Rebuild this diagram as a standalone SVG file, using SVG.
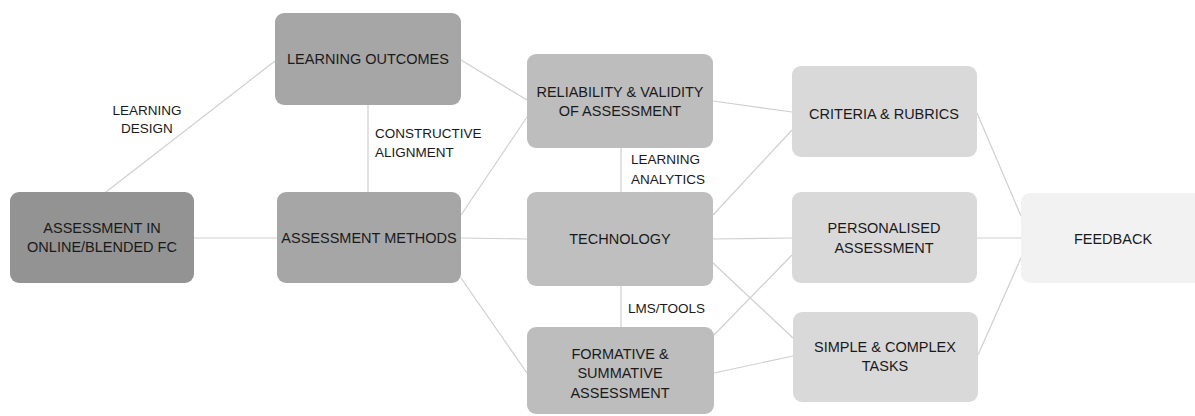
<svg xmlns="http://www.w3.org/2000/svg" width="1195" height="416" viewBox="0 0 1195 416">
<style>
.t{font-family:"Liberation Sans",Arial,sans-serif;font-size:14.5px;fill:#1a1a1a;text-anchor:middle}
.l{font-family:"Liberation Sans",Arial,sans-serif;font-size:13.5px;fill:#1a1a1a}
.c line{stroke:#cfcfcf;stroke-width:1.2}
</style>
<rect width="1195" height="416" fill="#ffffff"/>
<g class="c" id="connectors">
<line x1="275" y1="61" x2="106" y2="192"/>
<line x1="368" y1="105" x2="368" y2="192"/>
<line x1="461" y1="60" x2="527" y2="100"/>
<line x1="194" y1="238" x2="277" y2="238"/>
<line x1="461" y1="215" x2="527" y2="117"/>
<line x1="461" y1="238" x2="527" y2="239"/>
<line x1="461" y1="278" x2="527" y2="373"/>
<line x1="621" y1="148" x2="621" y2="192"/>
<line x1="621" y1="286" x2="621" y2="327"/>
<line x1="713" y1="101" x2="792" y2="112"/>
<line x1="713" y1="215" x2="792" y2="130"/>
<line x1="713" y1="239" x2="792" y2="238"/>
<line x1="713" y1="263" x2="793" y2="338"/>
<line x1="714" y1="335" x2="792" y2="255"/>
<line x1="714" y1="373" x2="793" y2="356"/>
<line x1="977" y1="113" x2="1021" y2="216"/>
<line x1="977" y1="238" x2="1021" y2="238"/>
<line x1="978" y1="355" x2="1021" y2="258"/>
</g>
<g id="labels">
<text class="l" x="147" y="115" text-anchor="middle">LEARNING</text>
<text class="l" x="147" y="133" text-anchor="middle">DESIGN</text>
<text class="l" x="375" y="138">CONSTRUCTIVE</text>
<text class="l" x="375" y="157">ALIGNMENT</text>
<text class="l" x="631" y="164">LEARNING</text>
<text class="l" x="631" y="184">ANALYTICS</text>
<text class="l" x="628" y="313">LMS/TOOLS</text>
</g>
<g id="learning-outcomes">
<rect x="275" y="13" width="186" height="92" rx="9" fill="#a6a6a6"/>
<text class="t" x="368" y="64">LEARNING OUTCOMES</text>
</g>
<g id="assessment-in-online">
<rect x="10" y="192" width="184" height="91" rx="9" fill="#939393"/>
<text class="t" x="102" y="233">ASSESSMENT IN</text>
<text class="t" x="102" y="252">ONLINE/BLENDED FC</text>
</g>
<g id="assessment-methods">
<rect x="277" y="192" width="184" height="91" rx="9" fill="#a6a6a6"/>
<text class="t" x="369" y="243">ASSESSMENT METHODS</text>
</g>
<g id="reliability">
<rect x="527" y="54" width="186" height="94" rx="9" fill="#bdbdbd"/>
<text class="t" x="620" y="97">RELIABILITY &amp; VALIDITY</text>
<text class="t" x="620" y="116">OF ASSESSMENT</text>
</g>
<g id="technology">
<rect x="527" y="192" width="186" height="94" rx="9" fill="#bfbfbf"/>
<text class="t" x="620" y="244">TECHNOLOGY</text>
</g>
<g id="formative">
<rect x="527" y="327" width="187" height="87" rx="9" fill="#bdbdbd"/>
<text class="t" x="620" y="359">FORMATIVE &amp;</text>
<text class="t" x="620" y="378">SUMMATIVE</text>
<text class="t" x="620" y="398">ASSESSMENT</text>
</g>
<g id="criteria">
<rect x="792" y="66" width="185" height="91" rx="9" fill="#d9d9d9"/>
<text class="t" x="884" y="119">CRITERIA &amp; RUBRICS</text>
</g>
<g id="personalised">
<rect x="792" y="192" width="185" height="91" rx="9" fill="#d9d9d9"/>
<text class="t" x="884" y="233">PERSONALISED</text>
<text class="t" x="884" y="253">ASSESSMENT</text>
</g>
<g id="simple-complex">
<rect x="793" y="312" width="185" height="90" rx="9" fill="#d9d9d9"/>
<text class="t" x="885" y="352">SIMPLE &amp; COMPLEX</text>
<text class="t" x="885" y="371">TASKS</text>
</g>
<g id="feedback">
<rect x="1021" y="193" width="185" height="90" rx="9" fill="#f2f2f2"/>
<text class="t" x="1113" y="244">FEEDBACK</text>
</g>
</svg>
